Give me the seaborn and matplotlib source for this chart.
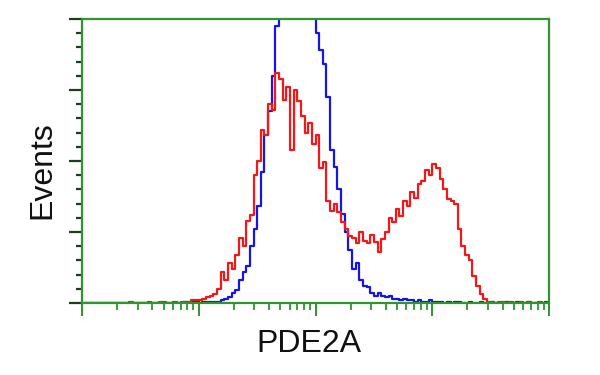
import numpy as np
import matplotlib
matplotlib.use("Agg")
import matplotlib.pyplot as plt
import seaborn as sns
from matplotlib.ticker import MultipleLocator, LogLocator, NullFormatter

# ---- data (histogram counts per log-spaced channel, 128 channels over 4 decades) ----
n_channels = 128
x_decades = (0, 4)
red_counts = [0, 0, 0, 0, 0, 0, 0, 0, 0, 0,
              0, 0, 0, 1, 0, 0, 0, 0, 1, 0,
              0, 1, 1, 0, 0, 1, 0, 1, 1, 1,
              2, 2, 2, 3, 4, 5, 6, 10, 22, 16,
              28, 24, 34, 46, 40, 58, 62, 90, 100, 122,
              118, 140, 136, 162, 158, 143, 152, 108, 150, 142,
              132, 120, 127, 112, 118, 95, 99, 72, 65, 70,
              64, 57, 52, 47, 46, 42, 50, 44, 42, 48,
              43, 36, 45, 50, 60, 57, 66, 61, 72, 68,
              78, 74, 84, 86, 94, 90, 98, 95, 87, 80,
              73, 72, 70, 52, 40, 34, 30, 19, 12, 6,
              3, 1, 1, 0, 1, 1, 0, 1, 0, 0,
              1, 0, 1, 0, 0, 1, 0, 0]
blue_counts = [0, 0, 0, 0, 0, 0, 0, 0, 0, 0,
               0, 0, 0, 0, 0, 0, 0, 0, 0, 0,
               0, 0, 0, 0, 0, 0, 0, 0, 1, 0,
               1, 1, 0, 1, 1, 1, 1, 1, 2, 3,
               4, 7, 9, 16, 22, 26, 40, 52, 68, 92,
               118, 135, 160, 195, 215, 225, 232, 238, 240, 236,
               233, 225, 215, 205, 190, 178, 168, 145, 108, 96,
               80, 63, 50, 37, 24, 28, 16, 12, 11, 7,
               5, 7, 5, 4, 5, 3, 3, 2, 3, 2,
               2, 1, 2, 1, 1, 2, 1, 1, 1, 0,
               1, 0, 1, 1, 0, 0, 1, 0, 0, 1,
               0, 0, 1, 0, 0, 0, 1, 0, 0, 1,
               0, 0, 1, 0, 0, 0, 0, 1]
x_label = "PDE2A"
y_label = "Events"

edges = np.logspace(x_decades[0], x_decades[1], n_channels + 1)
centers = np.sqrt(edges[:-1] * edges[1:])

sns.set_theme(style="white")
plt.rcParams["font.family"] = ["Liberation Sans", "DejaVu Sans"]

fig = plt.figure(figsize=(6, 3.75), dpi=100)
ax = fig.add_axes([82 / 600, 1 - 303 / 375, (549 - 82) / 600, (303 - 19) / 375])

sns.lineplot(x=centers, y=blue_counts, ax=ax, color="#1515e6", lw=1.6,
             drawstyle="steps-mid", sort=False)
sns.lineplot(x=centers, y=red_counts, ax=ax, color="#f01818", lw=1.6,
             drawstyle="steps-mid", sort=False)

ax.set_xscale("log")
ax.set_xlim(10 ** x_decades[0], 10 ** x_decades[1])
ax.set_ylim(0, 200)

green = "#2f952f"
for s in ax.spines.values():
    s.set_color(green)
    s.set_linewidth(1.6)
    s.set_visible(True)

ax.xaxis.set_major_locator(LogLocator(base=10, numticks=10))
ax.xaxis.set_minor_locator(LogLocator(base=10, subs=np.arange(2, 10), numticks=20))
ax.xaxis.set_major_formatter(NullFormatter())
ax.xaxis.set_minor_formatter(NullFormatter())
ax.yaxis.set_major_locator(MultipleLocator(50))
ax.yaxis.set_minor_locator(MultipleLocator(10))
ax.yaxis.set_major_formatter(NullFormatter())

ax.tick_params(axis="x", which="major", direction="out", length=9.5, width=1.4,
               color=green, bottom=True)
ax.tick_params(axis="x", which="minor", direction="out", length=5, width=1.3,
               color=green, bottom=True)
ax.tick_params(axis="y", which="major", direction="out", length=9.5, width=1.6,
               color="#1d3d1d", left=True)
ax.tick_params(axis="y", which="minor", direction="out", length=4.5, width=1.6,
               color="#1d3d1d", left=True)
ax.set_xlabel("")
ax.set_ylabel("")

fig.text(42 / 600, 1 - 170 / 375, y_label, rotation=90, ha="center", va="center",
         fontsize=23, color="#111111")
fig.text(309 / 600, 1 - 344 / 375, x_label, ha="center", va="center",
         fontsize=23, color="#111111")

fig.savefig("out.png", dpi=100, facecolor="white")
